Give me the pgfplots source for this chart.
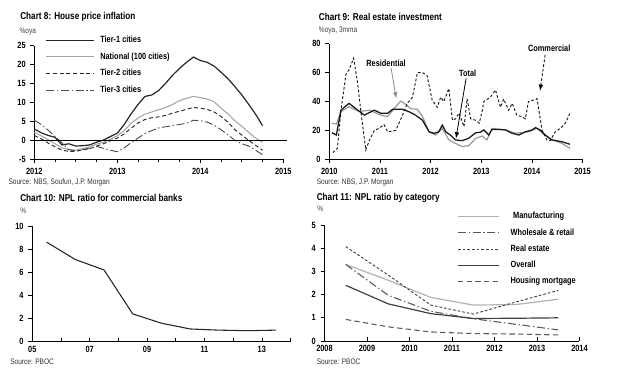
\documentclass[border=0pt]{standalone}
\usepackage{fontspec}
\setmainfont{Liberation Sans}[FakeStretch=0.82]
\usepackage{pgfplots}
\pgfplotsset{compat=1.18}
\newcommand\titlefont{\bfseries\fontsize{7.5}{8}\selectfont}
\newcommand\srcfont{\fontsize{6}{7}\selectfont}
\newcommand\tickfont{\bfseries\fontsize{6.75}{7}\selectfont}
\pgfplotsset{
 jpm/.style={
  scale only axis, anchor=south west,
  axis lines*=left, axis line style={-, black, line width=0.6pt},
  tick style={black, line width=0.5pt},
  major tick length=3pt, minor tick length=2pt,
  /pgf/number format/assume math mode=true,
  /pgf/number format/1000 sep={},
  ticklabel style={font=\tickfont, text=black},
  clip=false,
 }
}
\begin{document}
\begin{tikzpicture}[x=0.75pt,y=0.75pt]
\useasboundingbox (0,0) rectangle (632,379);
% titles and sources
\node[anchor=west,inner sep=0] at (20,362.3) {\titlefont Chart 8: House price inflation};
\node[anchor=west,inner sep=0] at (19.3,347.3) {\srcfont\color{black!75}\%oya};
\node[anchor=west,inner sep=0] at (8.3,196.3) {\srcfont\color{black!80}Source: NBS, Soufun, J.P. Morgan};
\node[anchor=west,inner sep=0] at (318.7,362.3) {\titlefont Chart 9: Real estate investment};
\node[anchor=west,inner sep=0] at (318.7,348.3) {\srcfont\color{black!75}\%oya, 3mma};
\node[anchor=west,inner sep=0] at (316.5,196.3) {\srcfont\color{black!80}Source: NBS, J.P. Morgan};
\node[anchor=west,inner sep=0] at (20,180.7) {\titlefont Chart 10: NPL ratio for commercial banks};
\node[anchor=west,inner sep=0] at (20,168.3) {\srcfont\color{black!75}\%};
\node[anchor=west,inner sep=0] at (10,17) {\srcfont\color{black!80}Source: PBOC};
\node[anchor=west,inner sep=0] at (316.5,180.7) {\titlefont Chart 11: NPL ratio by category};
\node[anchor=west,inner sep=0] at (317,170) {\srcfont\color{black!75}\%};
\node[anchor=west,inner sep=0] at (316.5,17) {\srcfont\color{black!80}Source: PBOC};

% ---------------- Chart 8
\begin{axis}[jpm, at={(25.725pt,164.775pt)}, width=186.75pt, height=85.2pt,
  xmin=2012, xmax=2015, ymin=-5, ymax=25,
  xtick={2012,2013,2014,2015}, minor x tick num=3,
  ytick={-5,0,5,10,15,20,25}, tick align=outside,
  legend image code/.code={\draw[#1] (0pt,0pt) -- (36pt,0pt);},
  legend style={draw=none, fill=none, at={(0.045,1.10)}, anchor=north west,
    font=\tickfont, row sep=4pt, inner sep=0pt, column sep=3pt,
    nodes={inner sep=1pt, text height=5pt, text depth=1.5pt}},
  legend cell align=left]
\addplot[black!85, line width=0.9pt] table[x expr=2012+\coordindex/12, y index=0] {
3.0
2.0
1.3
0.8
-1.2
-0.9
-1.5
-1.4
-1.2
-0.5
0.1
1.0
1.9
4.2
7.0
9.5
11.6
12.0
13.2
15.1
17.2
19.0
20.6
22.0
21.1
20.6
19.6
18.0
16.3
14.2
12.0
9.5
6.9
3.9
};
\addlegendentry{Tier-1 cities}
\addplot[black!35, line width=0.8pt] table[x expr=2012+\coordindex/12, y index=0] {
2.1
1.2
0.2
-0.9
-2.0
-2.4
-2.6
-2.2
-1.7
-1.0
-0.5
0.3
1.2
2.6
4.5
5.9
6.9
7.5
8.1
8.7
9.5
10.5
11.1
11.6
11.3
10.9
10.2
8.5
7.0
5.2
3.7
2.1
0.6
-0.5
};
\addlegendentry{National (100 cities)}
\addplot[black!85, line width=0.7pt, dash pattern=on 3pt off 2pt] table[x expr=2012+\coordindex/12, y index=0] {
1.3
0.4
-0.7
-1.7
-2.6
-2.9
-2.9
-2.5
-2.2
-1.5
-0.9
-0.1
0.6
1.7
3.2
4.6
5.5
6.0
6.2
6.6
7.2
7.7
8.2
8.7
8.5
8.2
7.5
6.3
4.8
2.8
1.4
0.0
-1.3
-2.6
};
\addlegendentry{Tier-2 cities}
\addplot[black!70, line width=0.7pt, dash pattern=on 6pt off 2pt on 1pt off 2pt] table[x expr=2012+\coordindex/12, y index=0] {
5.3
4.2
2.7
1.0
-0.6
-2.5
-2.7
-2.4
-2.1
-1.6
-2.1
-2.6
-3.0
-2.0
-0.6
0.6
1.8
2.6
3.3
3.6
3.9
4.2
4.5
5.3
5.2
4.8
4.0
2.8
1.5
0.0
-0.9
-1.5
-2.6
-3.8
};
\addlegendentry{Tier-3 cities}
\addplot[black, line width=0.6pt, forget plot] coordinates {(2012,0) (2015.05,0)};
\end{axis}

% ---------------- Chart 9
\begin{axis}[jpm, at={(246.975pt,164.775pt)}, width=190pt, height=86.7pt,
  xmin=2010, xmax=2015, ymin=0, ymax=80,
  xtick={2010,...,2015}, ytick={0,20,40,60,80}, tick align=outside]
\addplot[black!40, line width=0.9pt] coordinates {
(2010.05,24.9) (2010.14,24.4) (2010.23,33) (2010.39,36.4) (2010.59,33) (2010.79,34)
(2011.02,30.6) (2011.15,29.5) (2011.31,36.4) (2011.41,40.3) (2011.48,38.7) (2011.61,35)
(2011.74,34.6) (2011.84,29.5) (2011.97,19) (2012.10,16.8) (2012.23,21.4) (2012.36,13.4)
(2012.49,11) (2012.62,8.8) (2012.75,9.4) (2012.89,14.5) (2013.02,16.1) (2013.11,13.4)
(2013.21,21.4) (2013.48,20.3) (2013.67,18) (2013.93,19) (2014.10,21.4) (2014.26,16.8)
(2014.39,13.8) (2014.59,11) (2014.75,7.6)};
\addplot[black!90, line width=0.95pt] coordinates {
(2010.05,18.4) (2010.14,16.8) (2010.23,34) (2010.39,38.7) (2010.49,36) (2010.69,30.6)
(2010.89,34) (2011.02,31.8) (2011.15,31.8) (2011.25,34.6) (2011.44,34.6) (2011.57,33)
(2011.70,30.6) (2011.84,27) (2011.97,19) (2012.07,18) (2012.16,19) (2012.23,23.7)
(2012.30,19) (2012.39,16.8) (2012.49,13.4) (2012.62,12.9) (2012.75,14.5) (2012.89,18.4)
(2012.98,18.7) (2013.05,20.3) (2013.15,16.8) (2013.21,20.7) (2013.34,20.7) (2013.48,20.3)
(2013.61,18) (2013.74,16.8) (2013.87,19) (2014.00,20.3) (2014.07,21.9) (2014.16,20.3)
(2014.26,16.8) (2014.39,13.4) (2014.59,12.2) (2014.75,10.4)};
\addplot[black!90, line width=0.7pt, dash pattern=on 2pt off 1.5pt] coordinates {
(2010.07,4.6) (2010.16,7.6) (2010.23,34) (2010.33,59) (2010.39,62) (2010.48,70)
(2010.56,52.5) (2010.62,34) (2010.72,6.5) (2010.79,13) (2010.89,20) (2010.98,21.4)
(2011.08,24) (2011.15,19) (2011.31,20) (2011.41,27.6) (2011.54,38.7) (2011.64,43)
(2011.74,60) (2011.84,60) (2011.93,58) (2012.03,41) (2012.13,36) (2012.20,43)
(2012.26,40) (2012.36,49) (2012.43,27) (2012.49,28) (2012.56,32) (2012.66,22.6)
(2012.72,42) (2012.79,28) (2012.89,27) (2012.96,25) (2013.02,34) (2013.05,40)
(2013.18,43) (2013.28,48) (2013.38,36) (2013.44,41.7) (2013.54,34) (2013.61,38.7)
(2013.70,30.6) (2013.80,29.5) (2013.87,28) (2013.93,40) (2014.03,41) (2014.10,42)
(2014.20,20) (2014.30,13) (2014.36,13) (2014.46,19) (2014.56,21.4) (2014.66,25)
(2014.75,32)};
\node[font=\tickfont] at (axis cs:2011.12,66.4) {Residential};
\draw[black!45, line width=0.6pt, -latex] (axis cs:2011.22,63) -- (axis cs:2011.32,42.2);
\node[font=\tickfont] at (axis cs:2012.73,59.5) {Total};
\draw[black, line width=0.6pt, -latex] (axis cs:2012.70,56) -- (axis cs:2012.50,14.5);
\node[font=\tickfont] at (axis cs:2014.34,76.8) {Commercial};
\draw[black, line width=0.6pt, dash pattern=on 2pt off 1.5pt, -latex] (axis cs:2014.26,72.2) -- (axis cs:2014.16,47.5);
\end{axis}

% ---------------- Chart 10
\begin{axis}[jpm, at={(24.225pt,27.975pt)}, width=193.7pt, height=86.8pt,
  xmin=2005, xmax=2014, ymin=0, ymax=10,
  xtick={2005,...,2014}, xticklabels={05,,07,,09,,11,,13,},
  ytick={0,2,4,6,8,10}, xtick align=inside, ytick align=outside]
\addplot[black!85, line width=0.8pt] coordinates {
(2005.5,8.6) (2006.5,7.1) (2007.5,6.2) (2008.5,2.4) (2009.5,1.6)
(2010.5,1.1) (2011.5,1.0) (2012.5,0.95) (2013.5,1.0)};
\end{axis}

% ---------------- Chart 11
\begin{axis}[jpm, at={(243.375pt,28.5pt)}, width=191.25pt, height=87pt,
  xmin=2008, xmax=2014, ymin=0, ymax=5,
  xtick={2008,...,2014}, ytick={0,...,5}, xtick align=inside, ytick align=outside,
  legend image code/.code={\draw[#1] (0pt,0pt) -- (31pt,0pt);},
  legend style={draw=none, fill=none, at={(0.52,1.125)}, anchor=north west,
    font=\tickfont, row sep=3.7pt, inner sep=0pt, column sep=7pt,
    nodes={inner sep=1pt, text height=5pt, text depth=1.5pt}},
  legend cell align=left]
\addplot[black!30, line width=0.9pt] coordinates {
(2008.5,3.3) (2009.5,2.62) (2010.5,1.88) (2011.5,1.55) (2012.5,1.57) (2013.5,1.8)};
\addlegendentry{\hspace{2pt}Manufacturing}
\addplot[black!65, line width=0.8pt, dash pattern=on 6pt off 2pt on 1pt off 2pt] coordinates {
(2008.5,3.3) (2009.5,1.97) (2010.5,1.28) (2011.5,0.96) (2012.5,0.72) (2013.5,0.48)};
\addlegendentry{Wholesale \& retail}
\addplot[black!75, line width=0.7pt, dash pattern=on 2pt off 1.5pt] coordinates {
(2008.5,4.07) (2009.5,2.84) (2010.5,1.55) (2011.5,1.16) (2012.5,1.68) (2013.5,2.18)};
\addlegendentry{Real estate}
\addplot[black!75, line width=0.9pt] coordinates {
(2008.5,2.4) (2009.5,1.6) (2010.5,1.18) (2011.5,0.97) (2012.5,0.98) (2013.5,1.0)};
\addlegendentry{Overall}
\addplot[black!65, line width=0.8pt, dash pattern=on 4pt off 2.5pt] coordinates {
(2008.5,0.93) (2009.5,0.61) (2010.5,0.39) (2011.5,0.32) (2012.5,0.3) (2013.5,0.26)};
\addlegendentry{Housing mortgage}
\end{axis}
\end{tikzpicture}
\end{document}
